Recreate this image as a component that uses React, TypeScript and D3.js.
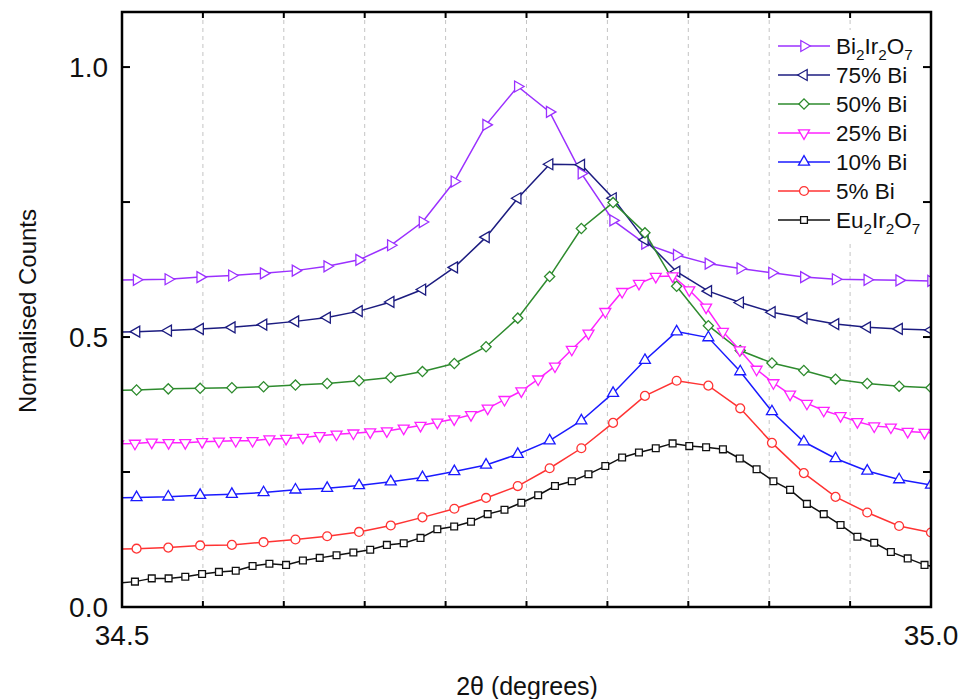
import React from "react";
import * as d3 from "d3";

// x positions (2θ, degrees)
const coarseX = [34.4894, 34.509, 34.5286, 34.5483, 34.5679, 34.5875, 34.6072, 34.6268, 34.6465, 34.6661, 34.6857, 34.7054, 34.725, 34.7446, 34.7643, 34.7839, 34.8035, 34.8232, 34.8428, 34.8624, 34.8821, 34.9017, 34.9214, 34.941, 34.9606, 34.9803, 35.0];
const fineX = [34.4976, 34.508, 34.5184, 34.5288, 34.5391, 34.5495, 34.5599, 34.5703, 34.5807, 34.5911, 34.6014, 34.6118, 34.6222, 34.6326, 34.643, 34.6534, 34.6637, 34.6741, 34.6845, 34.6949, 34.7053, 34.7157, 34.726, 34.7364, 34.7468, 34.7572, 34.7676, 34.778, 34.7883, 34.7987, 34.8091, 34.8195, 34.8299, 34.8403, 34.8506, 34.861, 34.8714, 34.8818, 34.8922, 34.9026, 34.9129, 34.9233, 34.9337, 34.9441, 34.9545, 34.9649, 34.9752, 34.9856, 34.996, 35.0064];

// series values (normalised counts)
const biValues = [0.605, 0.606, 0.607, 0.611, 0.614, 0.618, 0.623, 0.631, 0.643, 0.67, 0.713, 0.788, 0.893, 0.964, 0.917, 0.803, 0.716, 0.673, 0.652, 0.636, 0.627, 0.619, 0.611, 0.607, 0.606, 0.605, 0.604];
const bi75Values = [0.509, 0.51, 0.512, 0.515, 0.518, 0.523, 0.529, 0.536, 0.548, 0.565, 0.588, 0.629, 0.685, 0.757, 0.82, 0.819, 0.757, 0.68, 0.621, 0.585, 0.564, 0.546, 0.535, 0.524, 0.518, 0.515, 0.513];
const bi50Values = [0.401, 0.402, 0.404, 0.405, 0.406, 0.408, 0.411, 0.414, 0.419, 0.425, 0.436, 0.451, 0.482, 0.535, 0.612, 0.701, 0.749, 0.693, 0.594, 0.521, 0.475, 0.452, 0.438, 0.422, 0.414, 0.409, 0.406];
const bi25Values = [0.302, 0.303, 0.305, 0.304, 0.304, 0.306, 0.307, 0.308, 0.308, 0.311, 0.312, 0.314, 0.317, 0.32, 0.322, 0.324, 0.326, 0.331, 0.336, 0.342, 0.348, 0.356, 0.368, 0.384, 0.4, 0.422, 0.446, 0.477, 0.507, 0.547, 0.584, 0.599, 0.612, 0.613, 0.587, 0.555, 0.51, 0.476, 0.44, 0.415, 0.394, 0.377, 0.364, 0.354, 0.343, 0.335, 0.333, 0.325, 0.323, 0.322];
const bi10Values = [0.202, 0.203, 0.204, 0.207, 0.209, 0.212, 0.217, 0.22, 0.225, 0.232, 0.24, 0.251, 0.263, 0.283, 0.308, 0.345, 0.396, 0.457, 0.51, 0.499, 0.436, 0.362, 0.306, 0.275, 0.252, 0.236, 0.226];
const bi5Values = [0.107, 0.108, 0.11, 0.114, 0.115, 0.12, 0.125, 0.131, 0.139, 0.151, 0.166, 0.182, 0.202, 0.224, 0.257, 0.294, 0.341, 0.391, 0.419, 0.41, 0.368, 0.304, 0.248, 0.204, 0.175, 0.15, 0.138];
const euValues = [0.044, 0.047, 0.053, 0.053, 0.056, 0.061, 0.065, 0.067, 0.076, 0.08, 0.078, 0.086, 0.091, 0.096, 0.101, 0.106, 0.115, 0.118, 0.128, 0.144, 0.149, 0.158, 0.172, 0.18, 0.193, 0.207, 0.224, 0.233, 0.246, 0.261, 0.277, 0.286, 0.294, 0.303, 0.298, 0.296, 0.292, 0.275, 0.255, 0.233, 0.217, 0.191, 0.172, 0.152, 0.13, 0.119, 0.102, 0.09, 0.078, 0.072];

// axis ticks
const xGridTicks = [34.55, 34.6, 34.65, 34.7, 34.75, 34.8, 34.85, 34.9, 34.95];
const xLabelTicks = [34.5, 35.0];
const yMajorTicks = [0, 0.5, 1.0];
const yMinorTicks = [0.25, 0.75];

type Series = {
  name: string[]; // parts, odd indices are subscripts
  xs: number[];
  ys: number[];
  color: string;
  marker: string;
};

const series: Series[] = [
  { name: ["Bi", "2", "Ir", "2", "O", "7"], xs: coarseX, ys: biValues, color: "#9b30ff", marker: "right" },
  { name: ["75% Bi"], xs: coarseX, ys: bi75Values, color: "#1c1c80", marker: "left" },
  { name: ["50% Bi"], xs: coarseX, ys: bi50Values, color: "#2e8b2e", marker: "diamond" },
  { name: ["25% Bi"], xs: fineX, ys: bi25Values, color: "#ff22ff", marker: "down" },
  { name: ["10% Bi"], xs: coarseX, ys: bi10Values, color: "#1a1aff", marker: "up" },
  { name: ["5% Bi"], xs: coarseX, ys: bi5Values, color: "#ff3333", marker: "circle" },
  { name: ["Eu", "2", "Ir", "2", "O", "7"], xs: fineX, ys: euValues, color: "#111111", marker: "square" },
];

const W = 962;
const H = 699;
const L = 122;
const R = 931;
const T = 12;
const B = 607;
const FONT = "'Liberation Sans', Arial, Helvetica, sans-serif";

const x = d3.scaleLinear().domain([34.5, 35.0]).range([L, R]);
const y = d3.scaleLinear().domain([0, 1.102]).range([B, T]);

function markerPath(kind: string): { d: string; rot: number } {
  const tri = d3.symbol().type(d3.symbolTriangle).size(52)() as string;
  switch (kind) {
    case "right":
      return { d: tri, rot: 90 };
    case "left":
      return { d: tri, rot: -90 };
    case "down":
      return { d: tri, rot: 180 };
    case "up":
      return { d: tri, rot: 0 };
    case "diamond":
      return { d: d3.symbol().type(d3.symbolSquare).size(52)() as string, rot: 45 };
    case "circle":
      return { d: d3.symbol().type(d3.symbolCircle).size(62)() as string, rot: 0 };
    default:
      return { d: d3.symbol().type(d3.symbolSquare).size(46)() as string, rot: 0 };
  }
}

function Label({ parts, xPos, yPos, size }: { parts: string[]; xPos: number; yPos: number; size: number }) {
  let prevSub = false;
  return (
    <text x={xPos} y={yPos} fontSize={size} fontFamily={FONT} fill="#111">
      {parts.map((p, i) => {
        const sub = i % 2 === 1;
        const dy = sub && !prevSub ? 6 : !sub && prevSub ? -6 : 0;
        prevSub = sub;
        return (
          <tspan key={i} dy={dy} fontSize={sub ? size * 0.68 : size}>
            {p}
          </tspan>
        );
      })}
    </text>
  );
}

export default function App() {
  const line = d3
    .line<[number, number]>()
    .x((d) => x(d[0]))
    .y((d) => y(d[1]));

  const legendX0 = 778;
  const legendX1 = 830;
  const legendY0 = 46;
  const legendDy = 29;

  return (
    <svg
      width={W}
      height={H}
      viewBox={`0 0 ${W} ${H}`}
      style={{ position: "absolute", left: 0, top: 0, display: "block", background: "#fff" }}
    >
      <defs>
        <clipPath id="plotClip">
          <rect x={L} y={T} width={R - L} height={B - T} />
        </clipPath>
      </defs>
      <rect x={0} y={0} width={W} height={H} fill="#fff" />

      {/* grid */}
      {xGridTicks.map((t) => (
        <line key={t} x1={x(t)} x2={x(t)} y1={T} y2={B} stroke="#c4c4c4" strokeWidth={1} strokeDasharray="4,4" />
      ))}

      {/* legend background */}
      <rect x={774} y={30} width={150} height={210} fill="#fff" />

      {/* series */}
      <g clipPath="url(#plotClip)">
        {series.map((s, si) => {
          const pts = s.xs.map((xv, i) => [xv, s.ys[i]] as [number, number]);
          const m = markerPath(s.marker);
          return (
            <g key={si}>
              <path d={line(pts) as string} fill="none" stroke={s.color} strokeWidth={1.5} />
              {pts.map((p, i) => (
                <path
                  key={i}
                  d={m.d}
                  transform={`translate(${x(p[0])},${y(p[1])}) rotate(${m.rot})`}
                  fill="#fff"
                  stroke={s.color}
                  strokeWidth={1.3}
                />
              ))}
            </g>
          );
        })}
      </g>

      {/* legend */}
      {series.map((s, si) => {
        const ly = legendY0 + si * legendDy;
        const m = markerPath(s.marker);
        return (
          <g key={si}>
            <line x1={legendX0} x2={legendX1} y1={ly} y2={ly} stroke={s.color} strokeWidth={1.5} />
            <path
              d={m.d}
              transform={`translate(${(legendX0 + legendX1) / 2},${ly}) rotate(${m.rot})`}
              fill="#fff"
              stroke={s.color}
              strokeWidth={1.3}
            />
            <Label parts={s.name} xPos={836} yPos={ly + 8} size={22.5} />
          </g>
        );
      })}

      {/* x ticks (minor, inward) bottom and top */}
      {xGridTicks.map((t) => (
        <g key={"xt" + t}>
          <line x1={x(t)} x2={x(t)} y1={B} y2={B - 6} stroke="#000" strokeWidth={2} />
          <line x1={x(t)} x2={x(t)} y1={T} y2={T + 6} stroke="#000" strokeWidth={2} />
        </g>
      ))}
      {/* y ticks left and right */}
      {yMajorTicks.concat(yMinorTicks).map((t) => (
        <g key={"yt" + t}>
          <line x1={L} x2={L + 8} y1={y(t)} y2={y(t)} stroke="#000" strokeWidth={2} />
          <line x1={R} x2={R - 8} y1={y(t)} y2={y(t)} stroke="#000" strokeWidth={2} />
        </g>
      ))}

      {/* frame */}
      <rect x={L} y={T} width={R - L} height={B - T} fill="none" stroke="#000" strokeWidth={2.5} />

      {/* tick labels */}
      {xLabelTicks.map((t) => (
        <text key={"xl" + t} x={x(t)} y={645} textAnchor="middle" fontSize={28} fontFamily={FONT} fill="#111">
          {d3.format(".1f")(t)}
        </text>
      ))}
      {yMajorTicks.map((t) => (
        <text key={"yl" + t} x={108} y={y(t) + 10} textAnchor="end" fontSize={28} fontFamily={FONT} fill="#111">
          {d3.format(".1f")(t)}
        </text>
      ))}

      {/* axis titles */}
      <text x={527} y={695} textAnchor="middle" fontSize={25} fontFamily={FONT} fill="#111">
        2θ (degrees)
      </text>
      <text
        transform={`translate(36,311) rotate(-90)`}
        textAnchor="middle"
        fontSize={24}
        fontFamily={FONT}
        fill="#111"
      >
        Normalised Counts
      </text>
    </svg>
  );
}
